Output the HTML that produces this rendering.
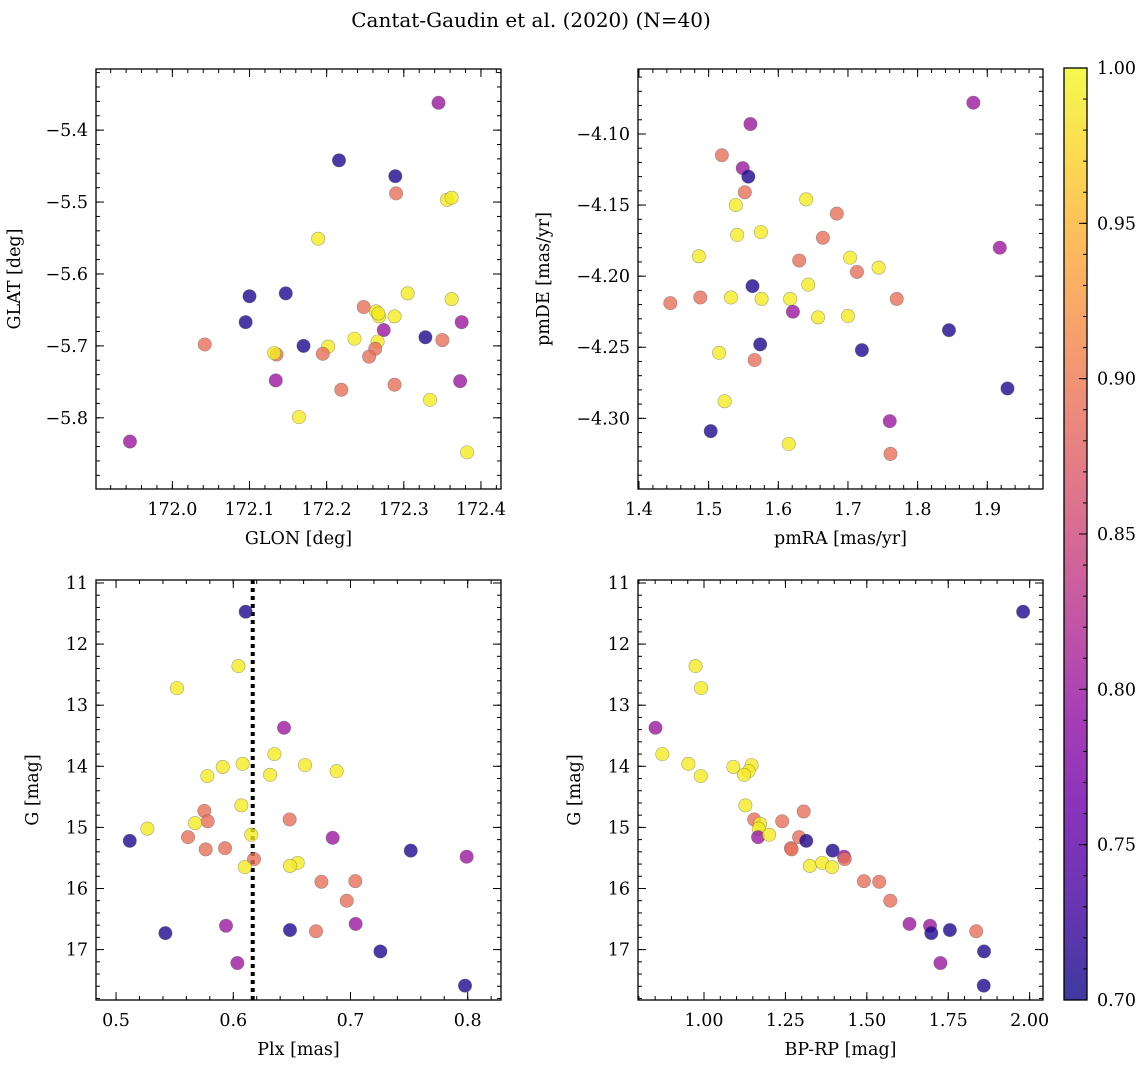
<!DOCTYPE html>
<html><head><meta charset="utf-8"><style>
html,body{margin:0;padding:0;background:#fff;}
svg{display:block;font-family:"DejaVu Serif","Liberation Serif",serif;}
</style></head><body>
<svg id="fig" width="1148" height="1068" viewBox="0 0 1148 1068" xmlns="http://www.w3.org/2000/svg">
<defs>
<linearGradient id="plasma" x1="0" y1="1" x2="0" y2="0">
<stop offset="0" stop-color="#0d0887"/><stop offset="0.1" stop-color="#41049d"/><stop offset="0.2" stop-color="#6a00a8"/><stop offset="0.3" stop-color="#8f0da4"/><stop offset="0.4" stop-color="#b12a90"/><stop offset="0.5" stop-color="#cc4778"/><stop offset="0.6" stop-color="#e16462"/><stop offset="0.7" stop-color="#f2844b"/><stop offset="0.8" stop-color="#fca636"/><stop offset="0.9" stop-color="#fcce25"/><stop offset="1" stop-color="#f0f921"/>
</linearGradient>
</defs>
<text x="531" y="27" font-size="20" text-anchor="middle">Cantat-Gaudin et al. (2020) (N=40)</text>
</svg>
<script>
// ---- data ----
const p1Glon=[171.945,172.042,172.100,172.147,172.095,172.216,172.289,172.290,172.356,172.362,172.345,172.189,172.305,172.362,172.248,172.264,172.268,172.288,172.375,172.274,172.328,172.350,172.236,172.266,172.263,172.255,172.170,172.202,172.195,172.135,172.132,172.134,172.219,172.288,172.373,172.334,172.164,172.382,172.267];
const p1Glat=[-5.833,-5.698,-5.631,-5.627,-5.667,-5.442,-5.464,-5.488,-5.497,-5.494,-5.362,-5.551,-5.627,-5.635,-5.646,-5.652,-5.659,-5.659,-5.667,-5.678,-5.688,-5.692,-5.690,-5.694,-5.704,-5.715,-5.700,-5.701,-5.711,-5.712,-5.710,-5.748,-5.761,-5.754,-5.749,-5.775,-5.799,-5.848,-5.655];
const p1Prob=[0.80,0.89,0.71,0.71,0.71,0.71,0.71,0.89,0.99,0.99,0.80,0.99,0.99,0.99,0.89,0.99,0.99,0.99,0.80,0.80,0.71,0.89,0.99,0.99,0.89,0.89,0.71,0.99,0.89,0.89,0.99,0.80,0.89,0.89,0.80,0.99,0.99,0.99,0.99];

const p2PmRA=[1.880,1.560,1.519,1.549,1.557,1.552,1.539,1.640,1.684,1.541,1.575,1.664,1.486,1.703,1.630,1.744,1.713,1.918,1.563,1.643,1.445,1.488,1.532,1.576,1.617,1.770,1.621,1.657,1.700,1.845,1.574,1.720,1.515,1.566,1.929,1.523,1.760,1.503,1.615,1.761];
const p2PmDE=[-4.078,-4.093,-4.115,-4.124,-4.130,-4.141,-4.150,-4.146,-4.156,-4.171,-4.169,-4.173,-4.186,-4.187,-4.189,-4.194,-4.197,-4.180,-4.207,-4.206,-4.219,-4.215,-4.215,-4.216,-4.216,-4.216,-4.225,-4.229,-4.228,-4.238,-4.248,-4.252,-4.254,-4.259,-4.279,-4.288,-4.302,-4.309,-4.318,-4.325];
const p2Prob=[0.80,0.80,0.89,0.80,0.71,0.89,0.99,0.99,0.89,0.99,0.99,0.89,0.99,0.99,0.89,0.99,0.89,0.80,0.71,0.99,0.89,0.89,0.99,0.99,0.99,0.89,0.80,0.99,0.99,0.71,0.71,0.71,0.99,0.89,0.71,0.99,0.80,0.71,0.99,0.89];

const p3Plx=[0.6106,0.6044,0.5520,0.6433,0.6351,0.6080,0.5910,0.6612,0.5779,0.6314,0.6882,0.6069,0.5753,0.5782,0.5674,0.6481,0.5267,0.5117,0.5614,0.5765,0.5930,0.6154,0.6848,0.7514,0.7991,0.6177,0.6098,0.6550,0.6484,0.6752,0.7041,0.6968,0.7044,0.5938,0.5421,0.6484,0.6706,0.7255,0.6035,0.7977];
const p3G=[11.47,12.36,12.72,13.37,13.80,13.96,14.01,13.98,14.16,14.14,14.08,14.64,14.73,14.90,14.93,14.87,15.02,15.22,15.16,15.36,15.34,15.12,15.17,15.38,15.48,15.52,15.65,15.58,15.63,15.89,15.88,16.20,16.58,16.61,16.73,16.68,16.70,17.03,17.22,17.59];
const p3Prob=[0.71,0.99,0.99,0.80,0.99,0.99,0.99,0.99,0.99,0.99,0.99,0.99,0.89,0.89,0.99,0.89,0.99,0.71,0.89,0.89,0.89,0.99,0.80,0.71,0.80,0.89,0.99,0.99,0.99,0.89,0.89,0.89,0.80,0.80,0.71,0.71,0.89,0.71,0.80,0.71];
const plxMean=0.6166;

const p4BpRp=[1.980,0.974,0.991,0.851,0.872,0.952,0.990,1.090,1.146,1.137,1.123,1.127,1.306,1.240,1.154,1.172,1.168,1.166,1.200,1.292,1.314,1.267,1.269,1.395,1.430,1.432,1.325,1.363,1.393,1.491,1.538,1.572,1.631,1.694,1.698,1.755,1.836,1.860,1.726,1.859];
const p4G=[11.47,12.36,12.72,13.37,13.80,13.96,14.16,14.01,13.98,14.08,14.14,14.64,14.74,14.90,14.87,14.94,15.02,15.16,15.12,15.16,15.22,15.34,15.36,15.38,15.48,15.52,15.63,15.58,15.65,15.88,15.89,16.20,16.58,16.61,16.73,16.68,16.70,17.03,17.22,17.59];
const p4Prob=[0.71,0.99,0.99,0.80,0.99,0.99,0.99,0.99,0.99,0.99,0.99,0.99,0.89,0.89,0.89,0.99,0.99,0.80,0.99,0.89,0.71,0.89,0.89,0.71,0.80,0.89,0.99,0.99,0.99,0.89,0.89,0.89,0.80,0.80,0.71,0.71,0.89,0.71,0.80,0.71];

const cbTicks=[0.70,0.75,0.80,0.85,0.90,0.95,1.00];

// ---- rendering ----
const NS="http://www.w3.org/2000/svg";
const svg=document.getElementById('fig');
const FS=17.5;
function mk(tag,attrs,parent){const e=document.createElementNS(NS,tag);for(const k in attrs)e.setAttribute(k,attrs[k]);(parent||svg).appendChild(e);return e;}
const stops=[[0,[13,8,135]],[0.1,[65,4,157]],[0.2,[106,0,168]],[0.3,[143,13,164]],[0.4,[177,42,144]],[0.5,[204,71,120]],[0.6,[225,100,98]],[0.7,[242,132,75]],[0.8,[252,166,54]],[0.9,[252,206,37]],[1,[240,249,33]]];
function plasma(t){t=Math.max(0,Math.min(1,t));for(let i=1;i<stops.length;i++){if(t<=stops[i][0]){const a=stops[i-1],b=stops[i];const f=(t-a[0])/(b[0]-a[0]);const c=a[1].map((v,j)=>Math.round(v+(b[1][j]-v)*f));return `rgb(${c[0]},${c[1]},${c[2]})`;}}return 'rgb(240,249,33)';}
function fmt(v,d){const s=Math.abs(v).toFixed(d);return (v<-1e-9?'\u2212':'')+s;}

function panel(o){
  const g=mk('g',{});
  
  
  const sx=v=>o.x0+(v-o.xd[0])/(o.xd[1]-o.xd[0])*o.w;
  const syy=o.yinv?(v=>o.y0+(v-o.yd[1])/(o.yd[0]-o.yd[1])*o.h):(v=>o.y0+(o.yd[1]-v)/(o.yd[1]-o.yd[0])*o.h);
  const tg=mk('g',{stroke:'#000','stroke-width':1},g);
  const ticks=(lo,hi,st)=>{const a=[];const s=Math.ceil(lo/st-1e-6);for(let k=s;k*st<=hi+1e-9;k++)a.push(+(k*st).toFixed(6));return a;};
  const xmn=Math.min(...o.xd),xmx=Math.max(...o.xd),ymn=Math.min(...o.yd),ymx=Math.max(...o.yd);
  ticks(xmn,xmx,o.xminor).forEach(v=>{const X=sx(v);mk('line',{x1:X,x2:X,y1:o.y0+o.h,y2:o.y0+o.h-4},tg);mk('line',{x1:X,x2:X,y1:o.y0,y2:o.y0+4},tg);});
  ticks(ymn,ymx,o.yminor).forEach(v=>{const Y=syy(v);mk('line',{x1:o.x0,x2:o.x0+4,y1:Y,y2:Y},tg);mk('line',{x1:o.x0+o.w,x2:o.x0+o.w-4,y1:Y,y2:Y},tg);});
  o.xticks.forEach(v=>{const X=sx(v);mk('line',{x1:X,x2:X,y1:o.y0+o.h,y2:o.y0+o.h-8},tg);mk('line',{x1:X,x2:X,y1:o.y0,y2:o.y0+8},tg);
    const t=mk('text',{x:X,y:o.y0+o.h+26,'font-size':FS,'text-anchor':'middle'},g);t.textContent=fmt(v,o.xdec);
    
    });
  o.yticks.forEach(v=>{const Y=syy(v);mk('line',{x1:o.x0,x2:o.x0+8,y1:Y,y2:Y},tg);mk('line',{x1:o.x0+o.w,x2:o.x0+o.w-8,y1:Y,y2:Y},tg);
    const t=mk('text',{x:o.x0-8,y:Y+6,'font-size':FS,'text-anchor':'end'},g);t.textContent=fmt(v,o.ydec);
    
    });
  if(o.vline!==undefined){const X=sx(o.vline);const l=mk('line',{x1:X,x2:X,y1:o.y0,y2:o.y0+o.h,stroke:'#000','stroke-width':4,'stroke-dasharray':'4 4'},g);
    
    }
  o.xs.forEach((v,i)=>{const c=mk('circle',{cx:sx(v),cy:syy(o.ys[i]),r:6.7,fill:plasma((o.ps[i]-0.7)/0.3),'fill-opacity':0.8,stroke:'#555','stroke-opacity':0.5,'stroke-width':0.6},g);
    
    });
  mk('rect',{x:o.x0,y:o.y0,width:o.w,height:o.h,fill:'none',stroke:'#000','stroke-width':1.3},g);
  const xl=mk('text',{x:o.x0+o.w/2,y:o.y0+o.h+55,'font-size':FS,'text-anchor':'middle'},g);xl.textContent=o.xlabel;
  
  
  const yl=mk('text',{x:0,y:0,'font-size':FS,'text-anchor':'middle',transform:`translate(${o.ylx},${o.y0+o.h/2}) rotate(-90)`},g);yl.textContent=o.ylabel;
  
  
}

panel({name:'glon-glat-panel',x0:96,y0:69,w:405,h:420,xd:[171.901,172.426],yd:[-5.899,-5.315],xs:p1Glon,ys:p1Glat,ps:p1Prob,
  xticks:[172.0,172.1,172.2,172.3,172.4],xdec:1,xminor:0.02,yticks:[-5.8,-5.7,-5.6,-5.5,-5.4],ydec:1,yminor:0.02,xlabel:'GLON [deg]',ylabel:'GLAT [deg]',ylx:20});
panel({name:'proper-motion-panel',x0:638,y0:69,w:405,h:420,xd:[1.3986,1.980],yd:[-4.3497,-4.0543],xs:p2PmRA,ys:p2PmDE,ps:p2Prob,
  xticks:[1.4,1.5,1.6,1.7,1.8,1.9],xdec:1,xminor:0.02,yticks:[-4.30,-4.25,-4.20,-4.15,-4.10],ydec:2,yminor:0.01,xlabel:'pmRA [mas/yr]',ylabel:'pmDE [mas/yr]',ylx:549});
panel({name:'parallax-g-panel',x0:96,y0:580,w:405,h:420,xd:[0.4829,0.8284],yd:[17.825,10.951],yinv:true,xs:p3Plx,ys:p3G,ps:p3Prob,vline:plxMean,
  xticks:[0.5,0.6,0.7,0.8],xdec:1,xminor:0.02,yticks:[11,12,13,14,15,16,17],ydec:0,yminor:0.2,xlabel:'Plx [mas]',ylabel:'G [mag]',ylx:38});
panel({name:'cmd-panel',x0:638,y0:580,w:405,h:420,xd:[0.7973,2.041],yd:[17.825,10.951],yinv:true,xs:p4BpRp,ys:p4G,ps:p4Prob,
  xticks:[1.00,1.25,1.50,1.75,2.00],xdec:2,xminor:0.05,yticks:[11,12,13,14,15,16,17],ydec:0,yminor:0.2,xlabel:'BP-RP [mag]',ylabel:'G [mag]',ylx:580});

(function(){
  const cg=mk('g',{});
  
  
  const x0=1064,w=23,y0=68,h=932,lo=0.70,hi=1.00;
  const cy=v=>y0+(hi-v)/(hi-lo)*h;
  mk('rect',{x:x0,y:y0,width:w,height:h,fill:'url(#plasma)','fill-opacity':0.8},cg);
  for(let k=70;k<=100;k++){const Y=cy(k/100);mk('line',{x1:x0+w,x2:x0+w-4,y1:Y,y2:Y,stroke:'#000'},cg);}
  cbTicks.forEach(v=>{const Y=cy(v);mk('line',{x1:x0+w,x2:x0+w-8,y1:Y,y2:Y,stroke:'#000'},cg);
    const t=mk('text',{x:x0+w+10,y:Y+6,'font-size':FS},cg);t.textContent=v.toFixed(2);
    
    });
  mk('rect',{x:x0,y:y0,width:w,height:h,fill:'none',stroke:'#000','stroke-width':1.3},cg);
})();
</script>
</body></html>
